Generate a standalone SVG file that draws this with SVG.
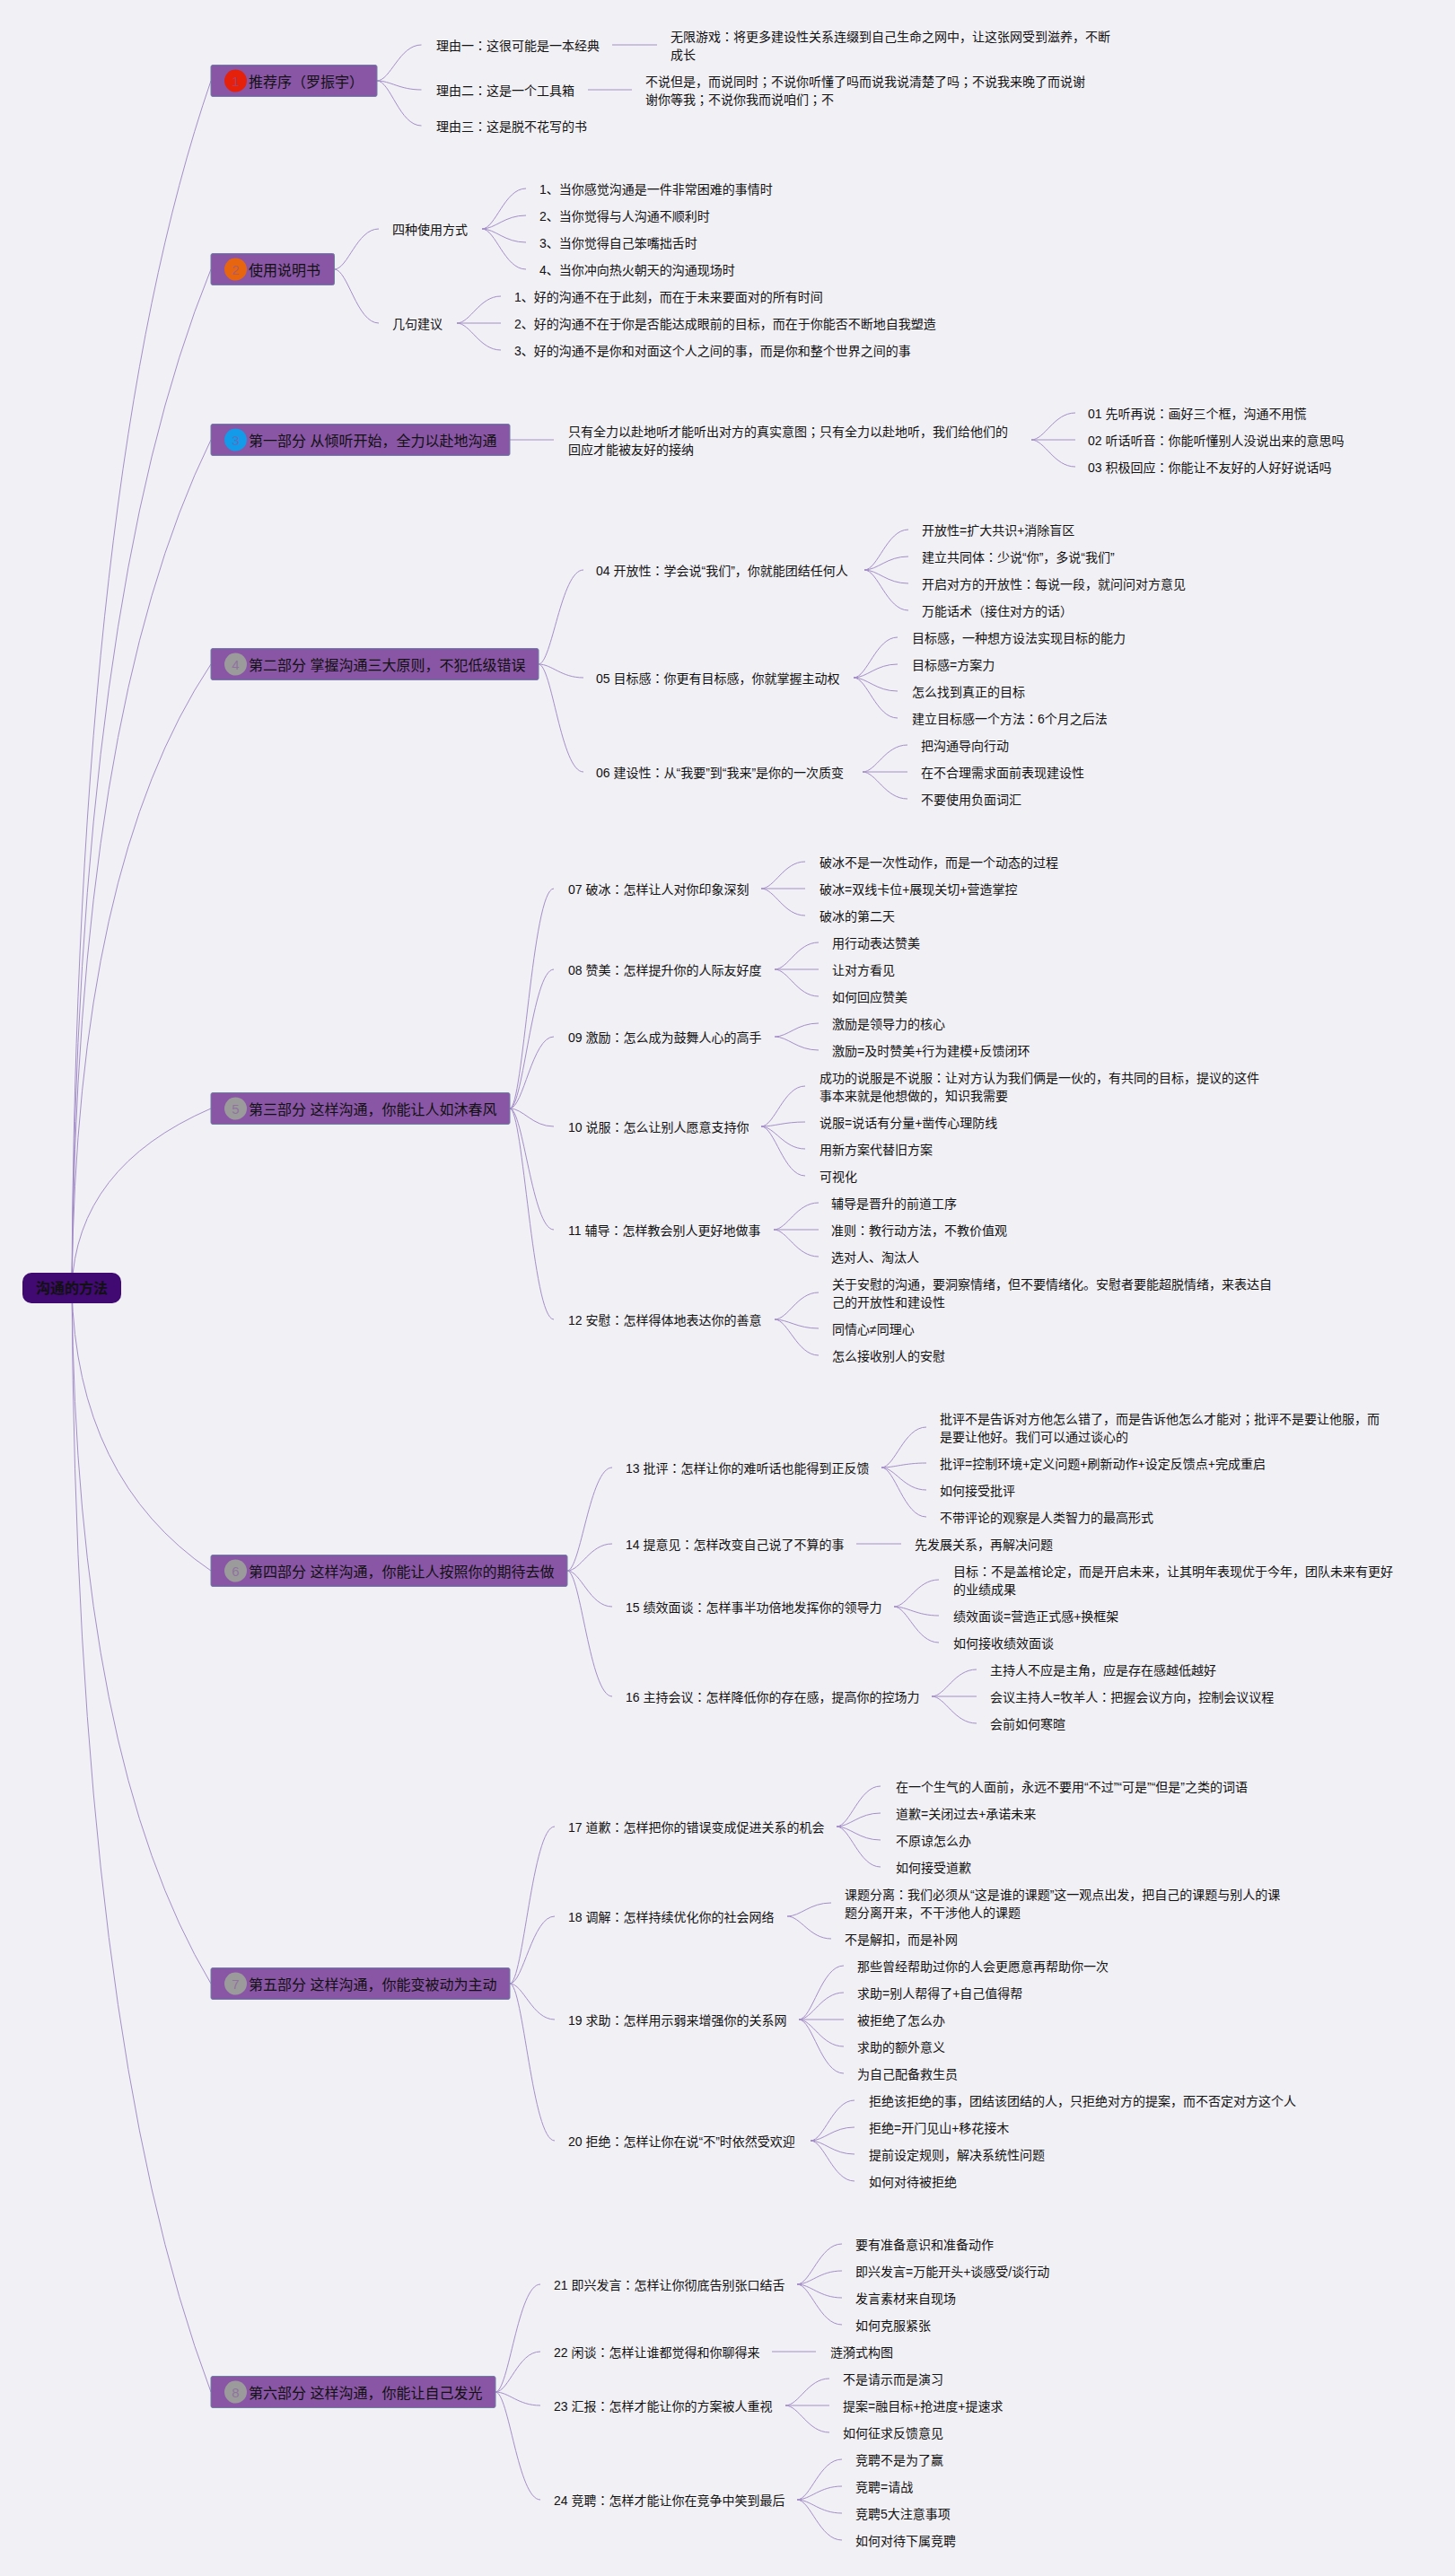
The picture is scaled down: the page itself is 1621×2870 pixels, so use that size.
<svg xmlns="http://www.w3.org/2000/svg" width="1621" height="2870" viewBox="0 0 1621 2870">
<style>
text{font-family:"Liberation Sans","Noto Sans CJK SC",sans-serif;fill:#111}
.l{font-size:14px;transform:translate(0,-1px)}
.t{font-size:16px;transform:translate(0,-1px)}
.k{font-family:"Noto Sans CJK JP",sans-serif}
.b{fill:#8955a5;stroke:#6f7ea3;stroke-width:1}
.n{font-size:15px;text-anchor:middle;fill:#8955a5;fill-opacity:.6}
.c{fill:none;stroke:#a48ec8;stroke-width:1}
.s{fill:none;stroke:#a48ec8;stroke-width:1}
</style>
<rect width="1621" height="2870" fill="#f1f0f5"/>
<g id="connectors">
<path class="c" d="M80 1435Q85 526 235 90M80 1435Q85 668 235 300M80 1435Q85 796 235 490M80 1435Q85 965 235 740M80 1435Q85 1300 235 1235M80 1435Q85 1648 235 1750M80 1435Q85 1959 235 2210M80 1435Q85 2267 235 2665"/>
<path class="c" d="M420 90c15 0 25-40 49.500-40M420 90c15 0 25 10 49.500 10M420 90c15 0 25 50 49.500 50"/>
<path class="s" d="M682 50h50M655 100h49"/>
<path class="c" d="M372.500 300c15 0 25-45 49.500-45M372.500 300c15 0 25 60 49.500 60"/>
<path class="c" d="M537 255c15 0 25-45 49-45M537 255c15 0 25-15 49-15M537 255c15 0 25 15 49 15M537 255c15 0 25 45 49 45"/>
<path class="c" d="M509 360c15 0 25-30 49-30M509 360h49M509 360c15 0 25 30 49 30"/>
<path class="s" d="M568 490h49"/>
<path class="c" d="M1149 490c15 0 25-30 49-30M1149 490h49M1149 490c15 0 25 30 49 30"/>
<path class="c" d="M600 740c15 0 25-105 50-105M600 740c15 0 25 15 50 15M600 740c15 0 25 120 50 120"/>
<path class="c" d="M963 635c15 0 25-45 49-45M963 635c15 0 25-15 49-15M963 635c15 0 25 15 49 15M963 635c15 0 25 45 49 45"/>
<path class="c" d="M951 755c15 0 25-45 49-45M951 755c15 0 25-15 49-15M951 755c15 0 25 15 49 15M951 755c15 0 25 45 49 45"/>
<path class="c" d="M961 860c15 0 25-30 50-30M961 860h50M961 860c15 0 25 30 50 30"/>
<path class="c" d="M568 1235c15 0 25-245 49-245M568 1235c15 0 25-155 49-155M568 1235c15 0 25-80 49-80M568 1235c15 0 25 20 49 20M568 1235c15 0 25 135 49 135M568 1235c15 0 25 235 49 235"/>
<path class="c" d="M848 990c15 0 25-30 49-30M848 990h49M848 990c15 0 25 30 49 30"/>
<path class="c" d="M863 1080c15 0 25-30 49-30M863 1080h49M863 1080c15 0 25 30 49 30"/>
<path class="c" d="M863 1155c15 0 25-15 49-15M863 1155c15 0 25 15 49 15"/>
<path class="c" d="M848 1255c15 0 25-45 49-45M848 1255c15 0 25-5 49-5M848 1255c15 0 25 25 49 25M848 1255c15 0 25 55 49 55"/>
<path class="c" d="M862 1370c15 0 25-30 50-30M862 1370h50M862 1370c15 0 25 30 50 30"/>
<path class="c" d="M863 1470c15 0 25-30 49-30M863 1470c15 0 25 10 49 10M863 1470c15 0 25 40 49 40"/>
<path class="c" d="M632 1750c15 0 25-115 50-115M632 1750c15 0 25-30 50-30M632 1750c15 0 25 40 50 40M632 1750c15 0 25 140 50 140"/>
<path class="c" d="M982 1635c15 0 25-45 50-45M982 1635c15 0 25-5 50-5M982 1635c15 0 25 25 50 25M982 1635c15 0 25 55 50 55"/>
<path class="s" d="M954 1720h50"/>
<path class="c" d="M996 1790c15 0 25-30 50-30M996 1790c15 0 25 10 50 10M996 1790c15 0 25 40 50 40"/>
<path class="c" d="M1038 1890c15 0 25-30 50-30M1038 1890h50M1038 1890c15 0 25 30 50 30"/>
<path class="c" d="M568 2210c15 0 25-175 50-175M568 2210c15 0 25-75 50-75M568 2210c15 0 25 40 50 40M568 2210c15 0 25 175 50 175"/>
<path class="c" d="M932 2035c15 0 25-45 49-45M932 2035c15 0 25-15 49-15M932 2035c15 0 25 15 49 15M932 2035c15 0 25 45 49 45"/>
<path class="c" d="M877 2135c15 0 25-15 49-15M877 2135c15 0 25 25 49 25"/>
<path class="c" d="M890 2250c15 0 25-60 50-60M890 2250c15 0 25-30 50-30M890 2250h50M890 2250c15 0 25 30 50 30M890 2250c15 0 25 60 50 60"/>
<path class="c" d="M903 2385c15 0 25-45 49-45M903 2385c15 0 25-15 49-15M903 2385c15 0 25 15 49 15M903 2385c15 0 25 45 49 45"/>
<path class="c" d="M552 2665c15 0 25-120 50-120M552 2665c15 0 25-45 50-45M552 2665c15 0 25 15 50 15M552 2665c15 0 25 120 50 120"/>
<path class="c" d="M888 2545c15 0 25-45 50-45M888 2545c15 0 25-15 50-15M888 2545c15 0 25 15 50 15M888 2545c15 0 25 45 50 45"/>
<path class="s" d="M860 2620h49"/>
<path class="c" d="M875 2680c15 0 25-30 49-30M875 2680h49M875 2680c15 0 25 30 49 30"/>
<path class="c" d="M888 2785c15 0 25-45 50-45M888 2785c15 0 25-15 50-15M888 2785c15 0 25 15 50 15M888 2785c15 0 25 45 50 45"/>
</g>
<g id="root"><rect x="25" y="1418" width="110" height="34" rx="10" fill="#400a72"/><text x="80" y="1441" text-anchor="middle" font-size="16" font-weight="bold">沟通的方法</text></g>
<g id="n1"><rect class="b" x="235" y="72.500" width="185" height="35" rx="2"/><circle cx="262.500" cy="90" r="12.500" fill="#e5200b"/><text class="n" x="262.500" y="95.500">1</text><text class="t" x="277" y="98">推荐序（罗振宇）</text></g>
<g id="n1-1"><text class="l" x="486" y="57">理由一<tspan class="k">：</tspan>这很可能是一本经典</text></g>
<g id="n1-1-1"><text class="l" x="747" y="47">无限游戏<tspan class="k">：</tspan>将更多建设性关系连缀到自己生命之网中，让这张网受到滋养，不断</text><text class="l" x="747" y="67">成长</text></g>
<g id="n1-2"><text class="l" x="486" y="107">理由二<tspan class="k">：</tspan>这是一个工具箱</text></g>
<g id="n1-2-1"><text class="l" x="719" y="97">不说但是，而说同时<tspan class="k">；</tspan>不说你听懂了吗而说我说清楚了吗<tspan class="k">；</tspan>不说我来晚了而说谢</text><text class="l" x="719" y="117">谢你等我<tspan class="k">；</tspan>不说你我而说咱们<tspan class="k">；</tspan>不</text></g>
<g id="n1-3"><text class="l" x="486" y="147">理由三<tspan class="k">：</tspan>这是脱不花写的书</text></g>
<g id="n2"><rect class="b" x="235" y="282.500" width="137.500" height="35" rx="2"/><circle cx="262.500" cy="300" r="12.500" fill="#e8650f"/><text class="n" x="262.500" y="305.500">2</text><text class="t" x="277" y="308">使用说明书</text></g>
<g id="n2-1"><text class="l" x="437" y="262">四种使用方式</text></g>
<g id="n2-1-1"><text class="l" x="601" y="217">1、当你感觉沟通是一件非常困难的事情时</text></g>
<g id="n2-1-2"><text class="l" x="601" y="247">2、当你觉得与人沟通不顺利时</text></g>
<g id="n2-1-3"><text class="l" x="601" y="277">3、当你觉得自己笨嘴拙舌时</text></g>
<g id="n2-1-4"><text class="l" x="601" y="307">4、当你冲向热火朝天的沟通现场时</text></g>
<g id="n2-2"><text class="l" x="437" y="367">几句建议</text></g>
<g id="n2-2-1"><text class="l" x="573" y="337">1、好的沟通不在于此刻，而在于未来要面对的所有时间</text></g>
<g id="n2-2-2"><text class="l" x="573" y="367">2、好的沟通不在于你是否能达成眼前的目标，而在于你能否不断地自我塑造</text></g>
<g id="n2-2-3"><text class="l" x="573" y="397">3、好的沟通不是你和对面这个人之间的事，而是你和整个世界之间的事</text></g>
<g id="n3"><rect class="b" x="235" y="472.500" width="333" height="35" rx="2"/><circle cx="262.500" cy="490" r="12.500" fill="#139ae8"/><text class="n" x="262.500" y="495.500">3</text><text class="t" x="277" y="498">第一部分 从倾听开始，全力以赴地沟通</text></g>
<g id="n3-0"><text class="l" x="633" y="487">只有全力以赴地听才能听出对方的真实意图<tspan class="k">；</tspan>只有全力以赴地听，我们给他们的</text><text class="l" x="633" y="507">回应才能被友好的接纳</text></g>
<g id="n3-1"><text class="l" x="1212" y="467">01 先听再说<tspan class="k">：</tspan>画好三个框，沟通不用慌</text></g>
<g id="n3-2"><text class="l" x="1212" y="497">02 听话听音<tspan class="k">：</tspan>你能听懂别人没说出来的意思吗</text></g>
<g id="n3-3"><text class="l" x="1212" y="527">03 积极回应<tspan class="k">：</tspan>你能让不友好的人好好说话吗</text></g>
<g id="n4"><rect class="b" x="235" y="722.500" width="365" height="35" rx="2"/><circle cx="262.500" cy="740" r="12.500" fill="#9b9b9b"/><text class="n" x="262.500" y="745.500">4</text><text class="t" x="277" y="748">第二部分 掌握沟通三大原则，不犯低级错误</text></g>
<g id="n04"><text class="l" x="664" y="642">04 开放性<tspan class="k">：</tspan>学会说“我们”，你就能团结任何人</text></g>
<g id="n04-1"><text class="l" x="1027" y="597">开放性=扩大共识+消除盲区</text></g>
<g id="n04-2"><text class="l" x="1027" y="627">建立共同体<tspan class="k">：</tspan>少说“你”，多说“我们”</text></g>
<g id="n04-3"><text class="l" x="1027" y="657">开启对方的开放性<tspan class="k">：</tspan>每说一段，就问问对方意见</text></g>
<g id="n04-4"><text class="l" x="1027" y="687">万能话术（接住对方的话）</text></g>
<g id="n05"><text class="l" x="664" y="762">05 目标感<tspan class="k">：</tspan>你更有目标感，你就掌握主动权</text></g>
<g id="n05-1"><text class="l" x="1016" y="717">目标感，一种想方设法实现目标的能力</text></g>
<g id="n05-2"><text class="l" x="1016" y="747">目标感=方案力</text></g>
<g id="n05-3"><text class="l" x="1016" y="777">怎么找到真正的目标</text></g>
<g id="n05-4"><text class="l" x="1016" y="807">建立目标感一个方法<tspan class="k">：</tspan>6个月之后法</text></g>
<g id="n06"><text class="l" x="664" y="867">06 建设性<tspan class="k">：</tspan>从“我要”到“我来”是你的一次质变</text></g>
<g id="n06-1"><text class="l" x="1026" y="837">把沟通导向行动</text></g>
<g id="n06-2"><text class="l" x="1026" y="867">在不合理需求面前表现建设性</text></g>
<g id="n06-3"><text class="l" x="1026" y="897">不要使用负面词汇</text></g>
<g id="n5"><rect class="b" x="235" y="1217.500" width="333" height="35" rx="2"/><circle cx="262.500" cy="1235" r="12.500" fill="#9b9b9b"/><text class="n" x="262.500" y="1240.500">5</text><text class="t" x="277" y="1243">第三部分 这样沟通，你能让人如沐春风</text></g>
<g id="n07"><text class="l" x="633" y="997">07 破冰<tspan class="k">：</tspan>怎样让人对你印象深刻</text></g>
<g id="n07-1"><text class="l" x="913" y="967">破冰不是一次性动作，而是一个动态的过程</text></g>
<g id="n07-2"><text class="l" x="913" y="997">破冰=双线卡位+展现关切+营造掌控</text></g>
<g id="n07-3"><text class="l" x="913" y="1027">破冰的第二天</text></g>
<g id="n08"><text class="l" x="633" y="1087">08 赞美<tspan class="k">：</tspan>怎样提升你的人际友好度</text></g>
<g id="n08-1"><text class="l" x="927" y="1057">用行动表达赞美</text></g>
<g id="n08-2"><text class="l" x="927" y="1087">让对方看见</text></g>
<g id="n08-3"><text class="l" x="927" y="1117">如何回应赞美</text></g>
<g id="n09"><text class="l" x="633" y="1162">09 激励<tspan class="k">：</tspan>怎么成为鼓舞人心的高手</text></g>
<g id="n09-1"><text class="l" x="927" y="1147">激励是领导力的核心</text></g>
<g id="n09-2"><text class="l" x="927" y="1177">激励=及时赞美+行为建模+反馈闭环</text></g>
<g id="n10"><text class="l" x="633" y="1262">10 说服<tspan class="k">：</tspan>怎么让别人愿意支持你</text></g>
<g id="n10-1"><text class="l" x="913" y="1207">成功的说服是不说服<tspan class="k">：</tspan>让对方认为我们俩是一伙的，有共同的目标，提议的这件</text><text class="l" x="913" y="1227">事本来就是他想做的，知识我需要</text></g>
<g id="n10-2"><text class="l" x="913" y="1257">说服=说话有分量+凿传心理防线</text></g>
<g id="n10-3"><text class="l" x="913" y="1287">用新方案代替旧方案</text></g>
<g id="n10-4"><text class="l" x="913" y="1317">可视化</text></g>
<g id="n11"><text class="l" x="633" y="1377">11 辅导<tspan class="k">：</tspan>怎样教会别人更好地做事</text></g>
<g id="n11-1"><text class="l" x="926" y="1347">辅导是晋升的前道工序</text></g>
<g id="n11-2"><text class="l" x="926" y="1377">准则<tspan class="k">：</tspan>教行动方法，不教价值观</text></g>
<g id="n11-3"><text class="l" x="926" y="1407">选对人、淘汰人</text></g>
<g id="n12"><text class="l" x="633" y="1477">12 安慰<tspan class="k">：</tspan>怎样得体地表达你的善意</text></g>
<g id="n12-1"><text class="l" x="927" y="1437">关于安慰的沟通，要洞察情绪，但不要情绪化。安慰者要能超脱情绪，来表达自</text><text class="l" x="927" y="1457">己的开放性和建设性</text></g>
<g id="n12-2"><text class="l" x="927" y="1487">同情心≠同理心</text></g>
<g id="n12-3"><text class="l" x="927" y="1517">怎么接收别人的安慰</text></g>
<g id="n6"><rect class="b" x="235" y="1732.500" width="397" height="35" rx="2"/><circle cx="262.500" cy="1750" r="12.500" fill="#9b9b9b"/><text class="n" x="262.500" y="1755.500">6</text><text class="t" x="277" y="1758">第四部分 这样沟通，你能让人按照你的期待去做</text></g>
<g id="n13"><text class="l" x="697" y="1642">13 批评<tspan class="k">：</tspan>怎样让你的难听话也能得到正反馈</text></g>
<g id="n13-1"><text class="l" x="1047" y="1587">批评不是告诉对方他怎么错了，而是告诉他怎么才能对<tspan class="k">；</tspan>批评不是要让他服，而</text><text class="l" x="1047" y="1607">是要让他好。我们可以通过谈心的</text></g>
<g id="n13-2"><text class="l" x="1047" y="1637">批评=控制环境+定义问题+刷新动作+设定反馈点+完成重启</text></g>
<g id="n13-3"><text class="l" x="1047" y="1667">如何接受批评</text></g>
<g id="n13-4"><text class="l" x="1047" y="1697">不带评论的观察是人类智力的最高形式</text></g>
<g id="n14"><text class="l" x="697" y="1727">14 提意见<tspan class="k">：</tspan>怎样改变自己说了不算的事</text></g>
<g id="n14-1"><text class="l" x="1019" y="1727">先发展关系，再解决问题</text></g>
<g id="n15"><text class="l" x="697" y="1797">15 绩效面谈<tspan class="k">：</tspan>怎样事半功倍地发挥你的领导力</text></g>
<g id="n15-1"><text class="l" x="1062" y="1757">目标<tspan class="k">：</tspan>不是盖棺论定，而是开启未来，让其明年表现优于今年，团队未来有更好</text><text class="l" x="1062" y="1777">的业绩成果</text></g>
<g id="n15-2"><text class="l" x="1062" y="1807">绩效面谈=营造正式感+换框架</text></g>
<g id="n15-3"><text class="l" x="1062" y="1837">如何接收绩效面谈</text></g>
<g id="n16"><text class="l" x="697" y="1897">16 主持会议<tspan class="k">：</tspan>怎样降低你的存在感，提高你的控场力</text></g>
<g id="n16-1"><text class="l" x="1103" y="1867">主持人不应是主角，应是存在感越低越好</text></g>
<g id="n16-2"><text class="l" x="1103" y="1897">会议主持人=牧羊人<tspan class="k">：</tspan>把握会议方向，控制会议议程</text></g>
<g id="n16-3"><text class="l" x="1103" y="1927">会前如何寒暄</text></g>
<g id="n7"><rect class="b" x="235" y="2192.500" width="333" height="35" rx="2"/><circle cx="262.500" cy="2210" r="12.500" fill="#9b9b9b"/><text class="n" x="262.500" y="2215.500">7</text><text class="t" x="277" y="2218">第五部分 这样沟通，你能变被动为主动</text></g>
<g id="n17"><text class="l" x="633" y="2042">17 道歉<tspan class="k">：</tspan>怎样把你的错误变成促进关系的机会</text></g>
<g id="n17-1"><text class="l" x="998" y="1997">在一个生气的人面前，永远不要用“不过”“可是”“但是”之类的词语</text></g>
<g id="n17-2"><text class="l" x="998" y="2027">道歉=关闭过去+承诺未来</text></g>
<g id="n17-3"><text class="l" x="998" y="2057">不原谅怎么办</text></g>
<g id="n17-4"><text class="l" x="998" y="2087">如何接受道歉</text></g>
<g id="n18"><text class="l" x="633" y="2142">18 调解<tspan class="k">：</tspan>怎样持续优化你的社会网络</text></g>
<g id="n18-1"><text class="l" x="941" y="2117">课题分离<tspan class="k">：</tspan>我们必须从“这是谁的课题”这一观点出发，把自己的课题与别人的课</text><text class="l" x="941" y="2137">题分离开来，不干涉他人的课题</text></g>
<g id="n18-2"><text class="l" x="941" y="2167">不是解扣，而是补网</text></g>
<g id="n19"><text class="l" x="633" y="2257">19 求助<tspan class="k">：</tspan>怎样用示弱来增强你的关系网</text></g>
<g id="n19-1"><text class="l" x="955" y="2197">那些曾经帮助过你的人会更愿意再帮助你一次</text></g>
<g id="n19-2"><text class="l" x="955" y="2227">求助=别人帮得了+自己值得帮</text></g>
<g id="n19-3"><text class="l" x="955" y="2257">被拒绝了怎么办</text></g>
<g id="n19-4"><text class="l" x="955" y="2287">求助的额外意义</text></g>
<g id="n19-5"><text class="l" x="955" y="2317">为自己配备救生员</text></g>
<g id="n20"><text class="l" x="633" y="2392">20 拒绝<tspan class="k">：</tspan>怎样让你在说“不”时依然受欢迎</text></g>
<g id="n20-1"><text class="l" x="968" y="2347">拒绝该拒绝的事，团结该团结的人，只拒绝对方的提案，而不否定对方这个人</text></g>
<g id="n20-2"><text class="l" x="968" y="2377">拒绝=开门见山+移花接木</text></g>
<g id="n20-3"><text class="l" x="968" y="2407">提前设定规则，解决系统性问题</text></g>
<g id="n20-4"><text class="l" x="968" y="2437">如何对待被拒绝</text></g>
<g id="n8"><rect class="b" x="235" y="2647.500" width="317" height="35" rx="2"/><circle cx="262.500" cy="2665" r="12.500" fill="#9b9b9b"/><text class="n" x="262.500" y="2670.500">8</text><text class="t" x="277" y="2673">第六部分 这样沟通，你能让自己发光</text></g>
<g id="n21"><text class="l" x="617" y="2552">21 即兴发言<tspan class="k">：</tspan>怎样让你彻底告别张口结舌</text></g>
<g id="n21-1"><text class="l" x="953" y="2507">要有准备意识和准备动作</text></g>
<g id="n21-2"><text class="l" x="953" y="2537">即兴发言=万能开头+谈感受/谈行动</text></g>
<g id="n21-3"><text class="l" x="953" y="2567">发言素材来自现场</text></g>
<g id="n21-4"><text class="l" x="953" y="2597">如何克服紧张</text></g>
<g id="n22"><text class="l" x="617" y="2627">22 闲谈<tspan class="k">：</tspan>怎样让谁都觉得和你聊得来</text></g>
<g id="n22-1"><text class="l" x="925" y="2627">涟漪式构图</text></g>
<g id="n23"><text class="l" x="617" y="2687">23 汇报<tspan class="k">：</tspan>怎样才能让你的方案被人重视</text></g>
<g id="n23-1"><text class="l" x="939" y="2657">不是请示而是演习</text></g>
<g id="n23-2"><text class="l" x="939" y="2687">提案=融目标+抢进度+提速求</text></g>
<g id="n23-3"><text class="l" x="939" y="2717">如何征求反馈意见</text></g>
<g id="n24"><text class="l" x="617" y="2792">24 竞聘<tspan class="k">：</tspan>怎样才能让你在竞争中笑到最后</text></g>
<g id="n24-1"><text class="l" x="953" y="2747">竞聘不是为了赢</text></g>
<g id="n24-2"><text class="l" x="953" y="2777">竞聘=请战</text></g>
<g id="n24-3"><text class="l" x="953" y="2807">竞聘5大注意事项</text></g>
<g id="n24-4"><text class="l" x="953" y="2837">如何对待下属竞聘</text></g>
</svg>
